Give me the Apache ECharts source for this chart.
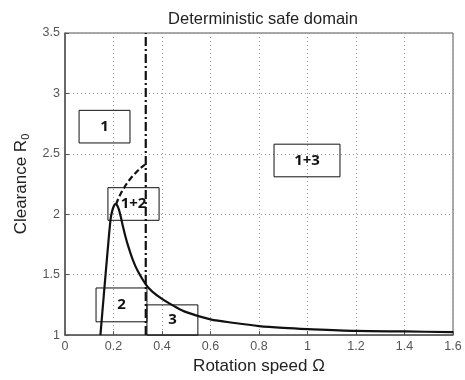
<!DOCTYPE html>
<html>
<head>
<meta charset="utf-8">
<title>Deterministic safe domain</title>
<script src="https://cdn.jsdelivr.net/npm/echarts@6/dist/echarts.min.js"></script>
<style>
  html, body { margin: 0; padding: 0; background: #fff; }
  #root { width: 465px; height: 380px; }
</style>
</head>
<body>
<div id="root"></div>
<script>
// rising branch of the boundary (solid)
var riseX = [0.146, 0.16, 0.175, 0.188, 0.195, 0.202, 0.207, 0.211];
var riseY = [1.0, 1.33, 1.68, 1.96, 2.03, 2.07, 2.085, 2.085];
// falling branch (solid)
var fallX = [0.211, 0.216, 0.222, 0.23, 0.24, 0.25, 0.26, 0.28, 0.30, 0.333, 0.36, 0.4, 0.45, 0.5, 0.6, 0.7, 0.8, 0.9, 1.0, 1.2, 1.4, 1.6];
var fallY = [2.085, 2.07, 2.04, 1.98, 1.89, 1.81, 1.74, 1.62, 1.53, 1.42, 1.36, 1.30, 1.24, 1.19, 1.13, 1.10, 1.075, 1.06, 1.05, 1.035, 1.03, 1.025];
// dashed branch from peak up to the vertical line
var dashX = [0.21, 0.227, 0.25, 0.268, 0.29, 0.31, 0.33];
var dashY = [2.08, 2.16, 2.24, 2.29, 2.34, 2.38, 2.41];
// dash-dot vertical limit
var limitX = [0.333, 0.333];
var limitY = [1, 3.5];
// region boxes: label, x0, x1, y0, y1
var boxLabels = ['1', '1+3', '1+2', '2', '3'];
var boxX0 = [0.058, 0.862, 0.177, 0.128, 0.338];
var boxX1 = [0.268, 1.134, 0.388, 0.338, 0.548];
var boxY0 = [2.59, 2.31, 1.95, 1.11, 0.97];
var boxY1 = [2.86, 2.58, 2.22, 1.39, 1.25];

function pairs(xs, ys) {
    return xs.map(function(x, i) { return [x, ys[i]]; });
}

var boxes = boxLabels.map(function(t, i) {
    return [
        { name: t, coord: [boxX0[i], boxY1[i]] },
        { coord: [boxX1[i], boxY0[i]] }
    ];
});

var myChart = echarts.init(document.getElementById('root'));
var option = {
    backgroundColor: '#fff',
    animation: false,
    title: {
        text: 'Deterministic safe domain',
        left: 258, top: 6, textAlign: 'center',
        textStyle: { fontFamily: 'Liberation Sans', fontSize: 16.5, fontWeight: 'normal', color: '#222' }
    },
    grid: { left: 65, right: 12, top: 33, bottom: 42, show: true, borderColor: '#555', borderWidth: 1 },
    xAxis: {
        type: 'value', min: 0, max: 1.6, interval: 0.2,
        name: 'Rotation speed Ω', nameLocation: 'middle', nameGap: 20,
        nameTextStyle: { fontFamily: 'Liberation Sans', fontSize: 17, color: '#222' },
        axisLine: { lineStyle: { color: '#555', width: 1.5 } },
        axisTick: { inside: true, length: 4, lineStyle: { color: '#555' } },
        axisLabel: {
            fontFamily: 'Liberation Sans', fontSize: 12.5, color: '#555', margin: 5,
            formatter: function(v) { return String(Math.round(v * 10) / 10); }
        },
        splitLine: { show: true, lineStyle: { type: [1, 3], color: '#999' } }
    },
    yAxis: {
        type: 'value', min: 1, max: 3.5, interval: 0.5,
        name: 'Clearance R{s|0}', nameLocation: 'middle', nameGap: 33,
        nameTextStyle: {
            fontFamily: 'Liberation Sans', fontSize: 17, color: '#222',
            rich: { s: { fontFamily: 'Liberation Sans', fontSize: 11, color: '#222', padding: [9, 0, 0, 0] } }
        },
        axisLine: { lineStyle: { color: '#555', width: 1.5 } },
        axisTick: { inside: true, length: 4, lineStyle: { color: '#555' } },
        axisLabel: { fontFamily: 'Liberation Sans', fontSize: 12.5, color: '#555', margin: 5 },
        splitLine: { show: true, lineStyle: { type: [1, 3], color: '#999' } }
    },
    series: [{
        type: 'line', data: pairs(riseX, riseY), showSymbol: false, clip: false, smooth: 0.3,
        lineStyle: { color: '#111', width: 2.2 }
    }, {
        type: 'line', data: pairs(fallX, fallY), showSymbol: false, smooth: 0.3,
        lineStyle: { color: '#111', width: 2.2 }
    }, {
        type: 'line', data: pairs(dashX, dashY), showSymbol: false, smooth: 0.3,
        lineStyle: { color: '#111', width: 2.2, type: [6, 3] }
    }, {
        type: 'line', data: pairs(limitX, limitY), showSymbol: false,
        lineStyle: { color: '#111', width: 2.2, type: [9, 3, 2, 3] }
    }, {
        type: 'line', data: [], clip: false,
        markArea: {
            silent: true,
            itemStyle: { color: 'rgba(0,0,0,0)', borderColor: '#111', borderWidth: 1 },
            label: {
                position: 'inside', fontFamily: 'Open Sans', fontWeight: 'bold',
                fontSize: 15, color: '#111'
            },
            data: boxes
        }
    }]
};
myChart.setOption(option);
</script>
</body>
</html>
